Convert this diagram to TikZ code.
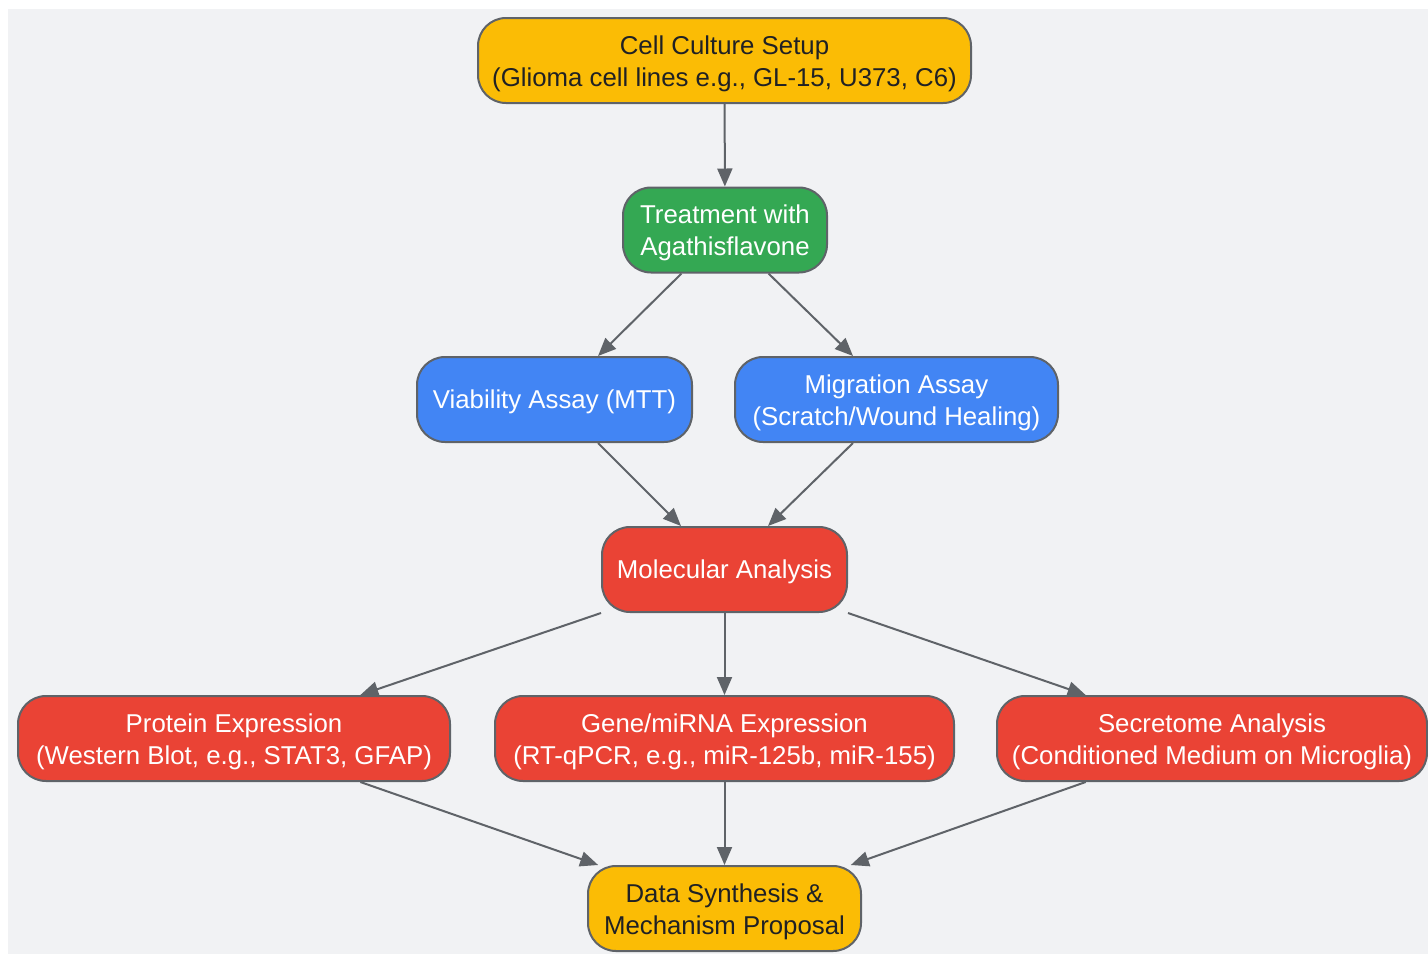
\documentclass[tikz,border=0pt]{standalone}
\usepackage{fontspec}
\setmainfont{Liberation Sans}
\usetikzlibrary{arrows.meta}

\definecolor{bgcol}{HTML}{F1F2F4}
\definecolor{edgecol}{HTML}{5F6368}
\definecolor{gyellow}{HTML}{FBBC05}
\definecolor{ggreen}{HTML}{34A853}
\definecolor{gblue}{HTML}{4285F4}
\definecolor{gred}{HTML}{EA4335}
\definecolor{darktext}{HTML}{202124}

\begin{document}
\begin{tikzpicture}[
  x=1pt, y=-1pt,
  box/.style={draw=edgecol, line width=2pt, rectangle, rounded corners=28pt, minimum height=85pt, inner sep=0pt, align=center, font=\fontsize{25.8}{32}\selectfont, execute at begin node={\rule{0pt}{24pt}}},
  twoline/.style={text height=57pt},
  startend/.style={box, fill=gyellow, text=darktext},
  treatbox/.style={box, fill=ggreen, text=white},
  assay/.style={box, fill=gblue, text=white},
  analysis/.style={box, fill=gred, text=white},
  arrow/.style={-{Triangle[length=18pt, width=15pt]}, line width=2pt, color=edgecol}
]
    \useasboundingbox (0,0) rectangle (1428,954);
    \fill[bgcol] (8,9) rectangle (1428,954);

    % Cell Culture Setup
    \node (setup) at (724.5, 60.5) [startend, twoline, minimum width=493pt] {Cell Culture Setup\\(Glioma cell lines e.g., GL-15, U373, C6)};

    % Treatment
    \node (treat) at (725, 230) [treatbox, twoline, minimum width=204pt] {Treatment with\\Agathisflavone};

    % Assays
    \node (via) at (554.5, 399.5) [assay, minimum width=275pt] {Viability Assay (MTT)};
    \node (mig) at (896.5, 399.5) [assay, twoline, minimum width=323pt] {Migration Assay\\(Scratch/Wound Healing)};

    % Molecular Analysis
    \node (mol) at (724.5, 569.5) [analysis, minimum width=245pt] {Molecular Analysis};

    % Expression / Secretome
    \node (prot) at (234, 738.5) [analysis, twoline, minimum width=432pt] {Protein Expression\\(Western Blot, e.g., STAT3, GFAP)};
    \node (gene) at (724.5, 738.5) [analysis, twoline, minimum width=459pt] {Gene/miRNA Expression\\(RT-qPCR, e.g., miR-125b, miR-155)};
    \node (secr) at (1212, 738.5) [analysis, twoline, minimum width=430pt] {Secretome Analysis\\(Conditioned Medium on Microglia)};

    % Data Synthesis
    \node (data) at (724.5, 908.5) [startend, twoline, minimum width=273pt] {Data Synthesis \&\\Mechanism Proposal};

    % Arrows
    \draw[arrow] (setup) -- (treat);
    \draw[arrow] (treat.-135) -- (via.45);
    \draw[arrow] (treat.-45) -- (mig.135);
    \draw[arrow] (via.-45) -- (mol.135);
    \draw[arrow] (mig.-135) -- (mol.45);
    \draw[arrow] (mol.south west) -- (prot.19);
    \draw[arrow] (mol) -- (gene);
    \draw[arrow] (mol.south east) -- (secr.161);
    \draw[arrow] (prot.-19) -- (data.161);
    \draw[arrow] (gene) -- (data);
    \draw[arrow] (secr.-161) -- (data.19);
\end{tikzpicture}
\end{document}
